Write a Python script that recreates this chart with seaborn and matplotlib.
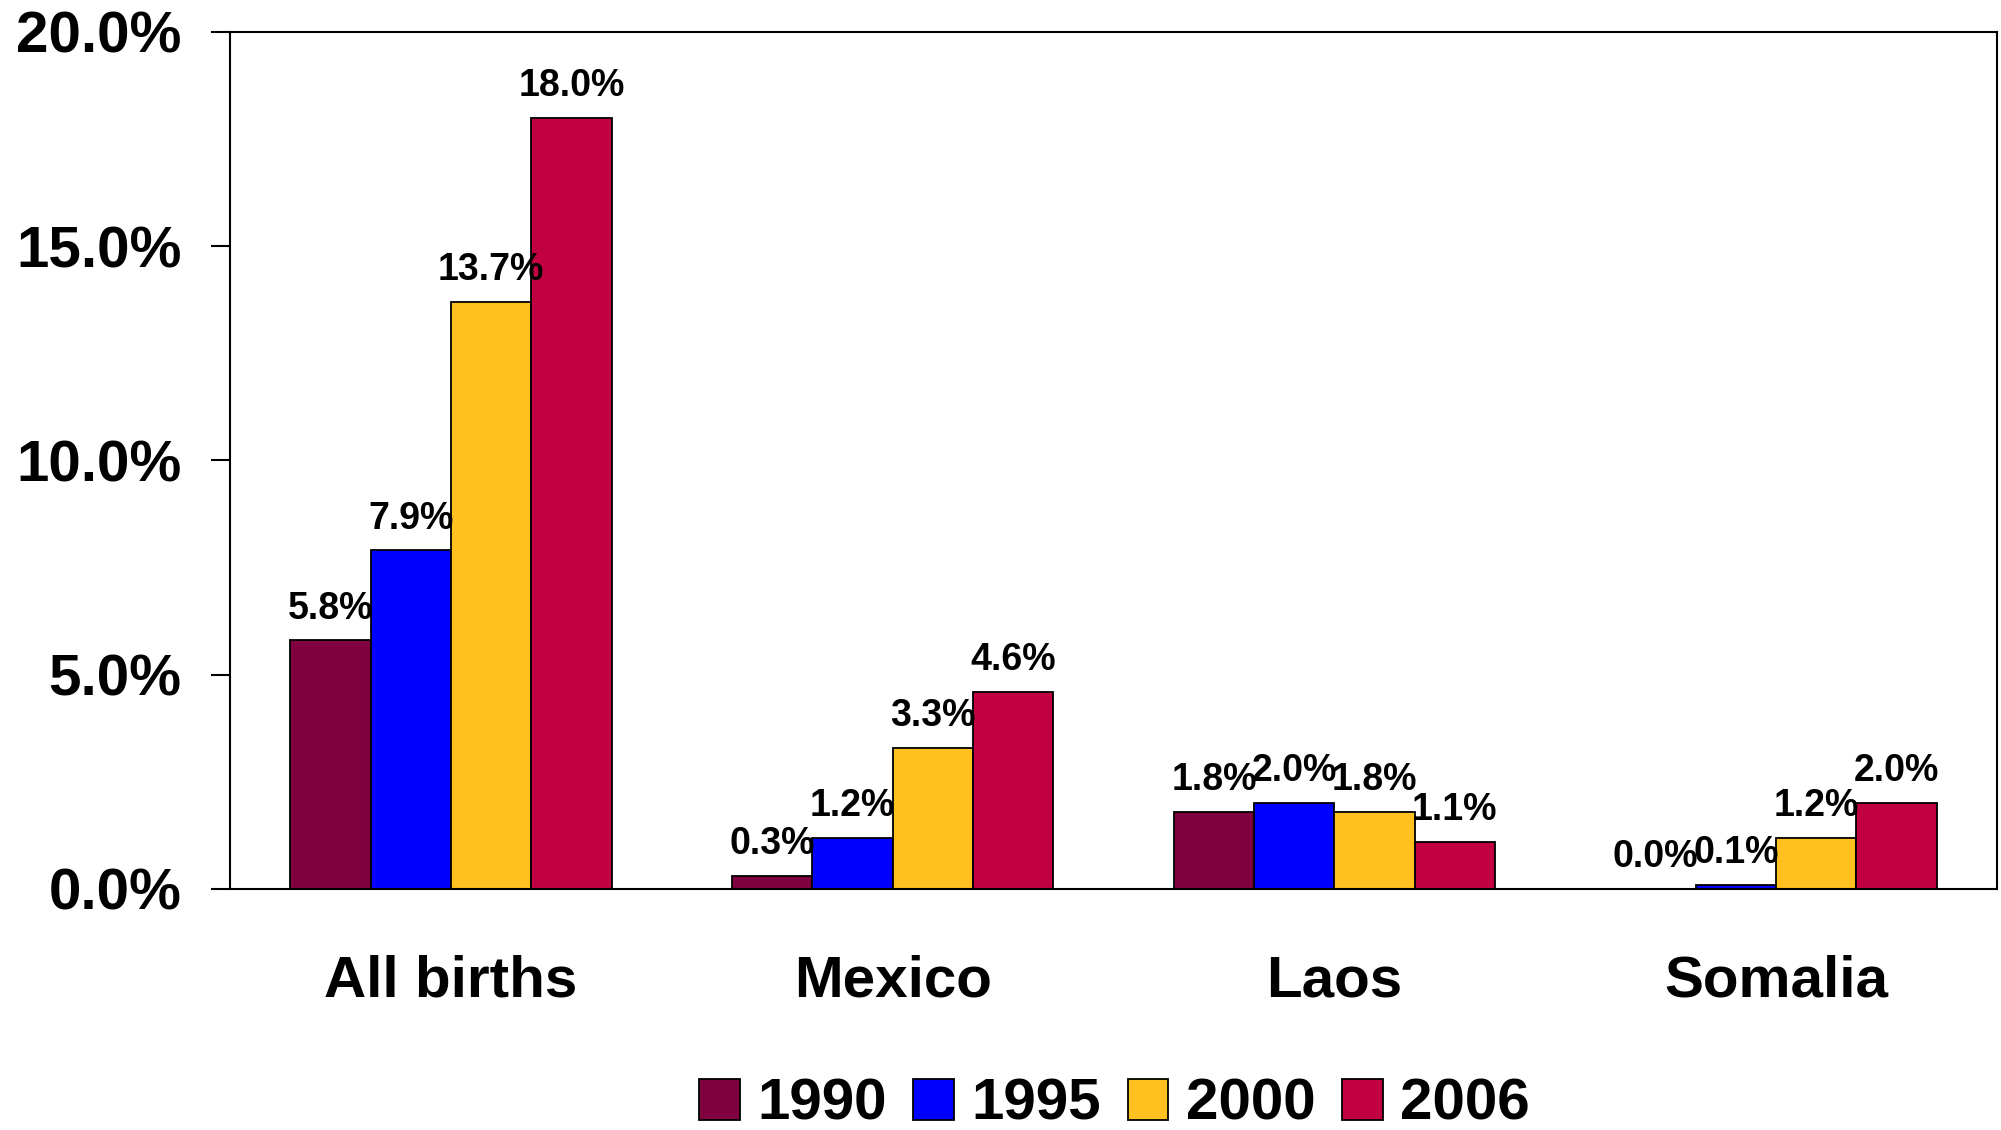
import numpy as np
import pandas as pd
import seaborn as sns
from matplotlib import pyplot as plt


CATEGORIES = ["All births", "Mexico", "Laos", "Somalia"]
YEARS = ["1990", "1995", "2000", "2006"]

VALUES_1990 = [5.8, 0.3, 1.8, 0.0]
VALUES_1995 = [7.9, 1.2, 2.0, 0.1]
VALUES_2000 = [13.7, 3.3, 1.8, 1.2]
VALUES_2006 = [18.0, 4.6, 1.1, 2.0]

COLORS = ["#800040", "#0000FF", "#FFC020", "#C00040"]
Y_TICKS = [0, 5, 10, 15, 20]


def main():
    sns.set_style("white")
    plt.rcParams["font.family"] = ["Liberation Sans", "DejaVu Sans"]
    plt.rcParams["font.weight"] = "bold"
    plt.rcParams["text.color"] = "black"
    plt.rcParams["xtick.color"] = "black"
    plt.rcParams["ytick.color"] = "black"
    plt.rcParams["xtick.labelcolor"] = "black"
    plt.rcParams["ytick.labelcolor"] = "black"

    series = [VALUES_1990, VALUES_1995, VALUES_2000, VALUES_2006]
    rows = []
    for year, vals in zip(YEARS, series):
        for cat, v in zip(CATEGORIES, vals):
            rows.append({"category": cat, "year": year, "value": v})
    df = pd.DataFrame(rows)

    fig = plt.figure(figsize=(20.01, 11.30), dpi=100)
    ax = fig.add_axes([0.115, 0.2133, 0.883, 0.7584])

    sns.barplot(data=df, x="category", y="value", hue="year", order=CATEGORIES,
                hue_order=YEARS, palette=COLORS, width=0.727, saturation=1,
                edgecolor="black", linewidth=1.3, ax=ax)

    for container in ax.containers:
        ax.bar_label(container, fmt="%.1f%%", padding=10, fontsize=27,
                     fontweight="bold", color="black")

    ax.set_ylim(0, 20)
    ax.set_xlim(-0.5, 3.5)
    ax.set_yticks(Y_TICKS)
    ax.set_yticklabels([f"{t:.1f}%" for t in Y_TICKS], fontsize=42, fontweight="bold")
    ax.set_xticks(range(len(CATEGORIES)))
    ax.set_xticklabels(CATEGORIES, fontsize=42, fontweight="bold")
    ax.set_xticks(np.arange(-0.5, len(CATEGORIES)), minor=True)
    ax.tick_params(axis="x", which="major", length=0, pad=47)
    ax.tick_params(axis="x", which="minor", length=14, width=1.5, color="black", direction="out")
    ax.tick_params(axis="y", length=14, width=1.5, color="black", direction="out", pad=21, left=True)
    ax.set_xlabel("")
    ax.set_ylabel("")

    for s in ax.spines.values():
        s.set_visible(True)
        s.set_color("black")
        s.set_linewidth(1.5)

    handles, labels = ax.get_legend_handles_labels()
    ax.legend_.remove()
    fig.legend(handles, labels, loc="lower center", bbox_to_anchor=(0.557, -0.048), ncol=4,
               frameon=False, prop={"size": 42, "weight": "bold"}, handlelength=0.7,
               handleheight=0.7, handletextpad=0.3, columnspacing=0.45)

    fig.savefig("out.png", dpi=100)


if __name__ == "__main__":
    main()
